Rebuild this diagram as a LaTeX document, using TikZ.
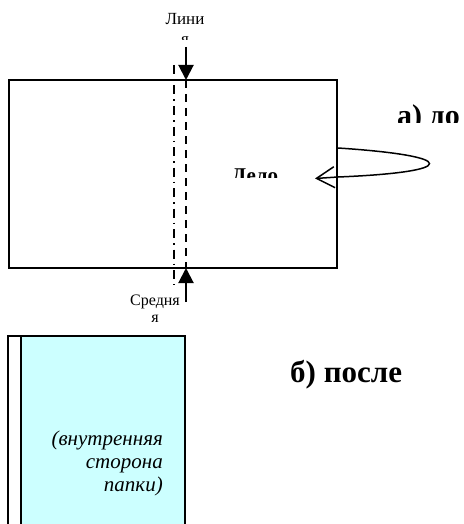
\documentclass[tikz,border=0pt]{standalone}
\usepackage{fontspec}
\setmainfont{Liberation Serif}
\usetikzlibrary{arrows.meta,positioning,calc}
\definecolor{folderblue}{HTML}{CCFFFF}

\begin{document}
\begin{tikzpicture}[
        x=1pt, y=-1pt,
        sheet/.style={draw, line width=2pt, inner sep=0pt, outer sep=0pt},
        lbl/.style={inner sep=0pt, font=\fontsize{16}{17}\selectfont},
        title/.style={inner sep=0pt, font=\fontsize{30}{34}\selectfont\bfseries},
        pointer/.style={-{Triangle[length=15pt,width=15pt]}, line width=2pt},
        turn/.style={-{Straight Barb[length=18pt,width=21pt]}, line width=1.5pt},
        foldline/.style={line width=1.5pt, dash pattern=on 9pt off 5pt on 1.5pt off 5pt},
        midline/.style={line width=1.5pt, dash pattern=on 8pt off 6pt},
    ]
        \useasboundingbox (0,0) rectangle (463,524);
        \clip (0,0) rectangle (463,524);

        % Sheet before folding
        \node[sheet, minimum width=328pt, minimum height=188pt] (sheet) at (173,174) {};

        % Fold and middle lines
        \coordinate (foldTop) at (174,65);
        \coordinate (foldBot) at (174,285);
        \coordinate (midTop) at (186,80);
        \coordinate (midBot) at (186,268);
        \draw[foldline] (foldTop) -- (foldBot);
        \draw[midline] (midTop) -- (midBot);

        % Pointers to the middle line
        \coordinate (topTail) at (186,47);
        \coordinate (botTail) at (186,302);
        \draw[pointer] (topTail) -- (midTop);
        \draw[pointer] (botTail) -- (midBot);

        % Labels (clipped as in the source)
        \begin{scope}
            \clip (140,0) rectangle (230,40);
            \node[lbl, font=\fontsize{17}{20}\selectfont, align=center, anchor=base] (lineLbl) at (185,45) {Лини\\я};
        \end{scope}
        \node[lbl, align=center, anchor=base] (middleLbl) at (155,322) {Средня\\я};
        \begin{scope}
            \clip (220,150) rectangle (300,177);
            \node[lbl, font=\fontsize{21}{23}\selectfont\bfseries, anchor=base] (caseLbl) at (255,182) {Дело};
        \end{scope}
        \begin{scope}
            \clip (380,90) rectangle (463,122);
            \node[title, anchor=base west] (beforeLbl) at (397,125) {а) до};
        \end{scope}

        % Turning the sheet over
        \coordinate (turnStart) at (338,148);
        \coordinate (turnEnd) at (338,177);
        \coordinate (turnTip) at (315,178.5);
        \draw[turn] (turnStart) .. controls (460,156) and (460,172) .. (turnEnd) -- (turnTip);

        % Folder after folding
        \node[sheet, minimum width=13pt, minimum height=210pt, anchor=north west] (spine) at (8,336) {};
        \node[sheet, fill=folderblue, minimum width=164pt, minimum height=210pt, anchor=north west] (inside) at (spine.north east) {};
        \node[title, font=\fontsize{31}{34}\selectfont\bfseries, anchor=base west] (afterLbl) at (290,382) {б) после};
        \node[inner sep=0pt, align=right, anchor=north east, font=\fontsize{21}{23}\selectfont\itshape] (insideLbl) at (163,431) {(внутренняя\\сторона\\папки)};
    \end{tikzpicture}
\end{document}
